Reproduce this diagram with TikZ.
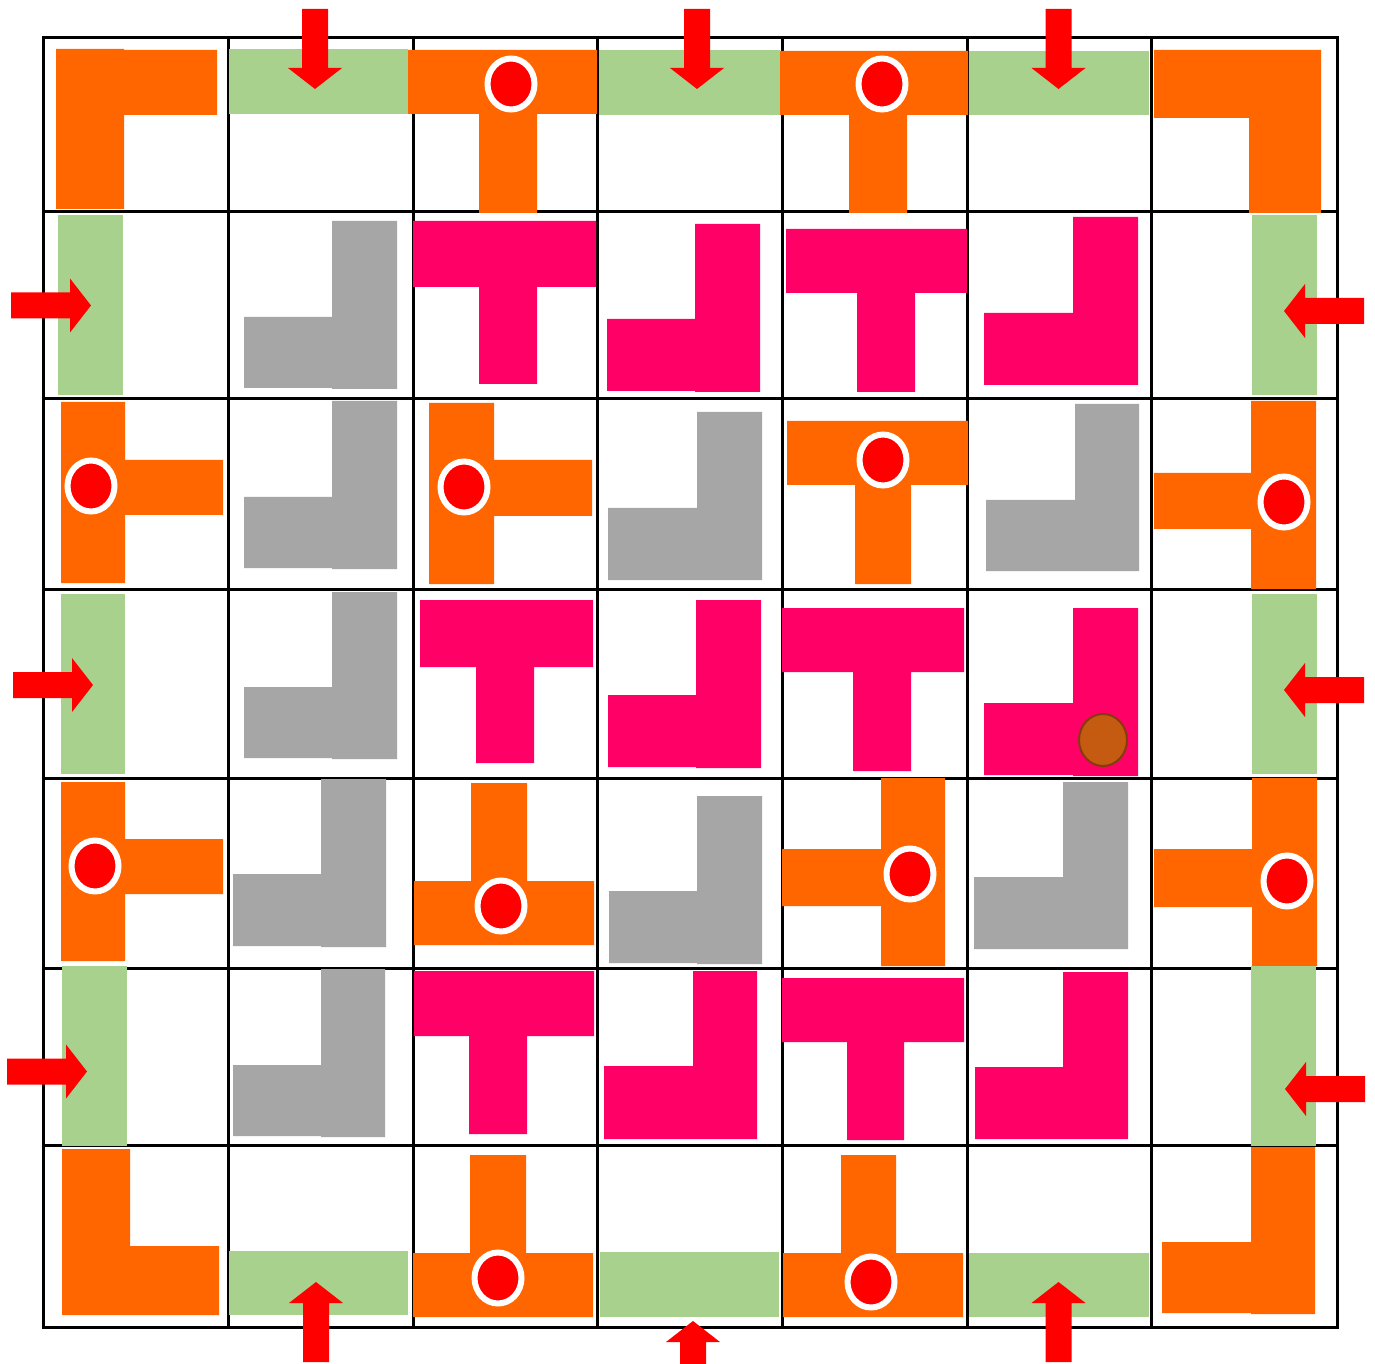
\documentclass[tikz,border=0pt]{standalone}
\usepackage{tikz}
\usetikzlibrary{shapes.geometric}
\usepackage{xcolor}
\definecolor{pieceorange}{RGB}{255,102,0}
\definecolor{piecegreen}{RGB}{169,209,142}
\definecolor{piecepink}{RGB}{255,0,102}
\definecolor{piecegray}{RGB}{166,166,166}
\definecolor{pinred}{RGB}{255,0,0}
\definecolor{stonebrown}{RGB}{197,90,17}
\definecolor{stoneedge}{RGB}{132,60,12}

% block arrows: first argument is the centre line, second the tip
\newcommand{\arrowdown}[2]{\fill[arrowred] (#1,#2) -- ++(27,-21) -- ++(-14,0) -- ++(0,-59) -- ++(-26,0) -- ++(0,59) -- ++(-14,0) -- cycle;}
\newcommand{\arrowup}[2]{\fill[arrowred] (#1,#2) -- ++(27,21) -- ++(-14,0) -- ++(0,59) -- ++(-26,0) -- ++(0,-59) -- ++(-14,0) -- cycle;}
\newcommand{\arrowright}[2]{\fill[arrowred] (#1,#2) -- ++(-21,-27) -- ++(0,14) -- ++(-59,0) -- ++(0,26) -- ++(59,0) -- ++(0,14) -- cycle;}
\newcommand{\arrowleft}[2]{\fill[arrowred] (#1,#2) -- ++(21,-27) -- ++(0,14) -- ++(59,0) -- ++(0,26) -- ++(-59,0) -- ++(0,14) -- cycle;}

\tikzset{
    grid line/.style={line width=0.06cm},
    orangepiece/.style={fill=pieceorange},
    greenpiece/.style={fill=piecegreen},
    pinkpiece/.style={fill=piecepink},
    graypiece/.style={fill=piecegray},
    arrowred/.style={fill=pinred},
    pin/.style={ellipse, fill=pinred, draw=white, line width=0.12cm, minimum width=0.94cm, minimum height=1.02cm, inner sep=0pt},
    stone/.style={ellipse, fill=stonebrown, draw=stoneedge, line width=0.04cm, minimum width=0.96cm, minimum height=1.04cm, inner sep=0pt}
}

\begin{document}
\begin{tikzpicture}[x=0.02cm, y=-0.02cm]
    \clip (0,0) rectangle (1375,1364);
    \fill[white] (0,0) rectangle (1375,1364);

    % board
    \foreach \gx in {228,413,597,782,967,1151}
        \draw[grid line] (\gx,38) -- (\gx,1327);
    \foreach \gy in {212,399,589,778,968,1145}
        \draw[grid line] (43,\gy) -- (1337,\gy);
    \draw[grid line] (43,38) rectangle (1337,1327);

    % fixed orange pieces
    \fill[orangepiece] (56,49) rectangle (124,209) (124,50) rectangle (217,115);
    \fill[orangepiece] (408,50) rectangle (597,114) (479,114) rectangle (537,213);
    \fill[orangepiece] (779,51) rectangle (968,115) (849,115) rectangle (907,213);
    \fill[orangepiece] (1154,50) rectangle (1321,118) (1249,118) rectangle (1321,213);
    \fill[orangepiece] (61,402) rectangle (125,583) (125,460) rectangle (223,515);
    \fill[orangepiece] (429,403) rectangle (494,584) (494,460) rectangle (592,516);
    \fill[orangepiece] (787,421) rectangle (968,485) (855,485) rectangle (911,584);
    \fill[orangepiece] (1251,401) rectangle (1316,589) (1154,473) rectangle (1251,529);
    \fill[orangepiece] (61,782) rectangle (125,961) (125,839) rectangle (223,894);
    \fill[orangepiece] (471,783) rectangle (527,881) (414,881) rectangle (594,945);
    \fill[orangepiece] (881,778) rectangle (945,966) (782,849) rectangle (881,906);
    \fill[orangepiece] (1252,778) rectangle (1317,966) (1154,849) rectangle (1252,907);
    \fill[orangepiece] (62,1149) rectangle (130,1246) (62,1246) rectangle (219,1315);
    \fill[orangepiece] (470,1155) rectangle (526,1253) (413,1253) rectangle (593,1317);
    \fill[orangepiece] (841,1155) rectangle (896,1253) (783,1253) rectangle (963,1317);
    \fill[orangepiece] (1251,1147) rectangle (1315,1314) (1162,1242) rectangle (1251,1313);

    % sliding bars on the rim
    \fill[greenpiece] (229,49) rectangle (408,114);
    \fill[greenpiece] (599,50) rectangle (780,115);
    \fill[greenpiece] (969,51) rectangle (1149,115);
    \fill[greenpiece] (58,215) rectangle (123,395);
    \fill[greenpiece] (1252,215) rectangle (1317,395);
    \fill[greenpiece] (61,594) rectangle (125,774);
    \fill[greenpiece] (1252,594) rectangle (1317,774);
    \fill[greenpiece] (62,966) rectangle (127,1146);
    \fill[greenpiece] (1251,966) rectangle (1316,1146);
    \fill[greenpiece] (229,1251) rectangle (408,1315);
    \fill[greenpiece] (600,1252) rectangle (779,1317);
    \fill[greenpiece] (969,1253) rectangle (1149,1317);

    % gray corners
    \fill[graypiece] (332,221) rectangle (397,389) (244,317) rectangle (332,388);
    \fill[graypiece] (332,401) rectangle (397,569) (244,497) rectangle (332,568);
    \fill[graypiece] (697,412) rectangle (762,580) (608,508) rectangle (697,580);
    \fill[graypiece] (1075,404) rectangle (1139,571) (986,500) rectangle (1075,571);
    \fill[graypiece] (332,592) rectangle (397,759) (244,687) rectangle (332,758);
    \fill[graypiece] (321,779) rectangle (386,947) (233,874) rectangle (321,946);
    \fill[graypiece] (697,796) rectangle (762,964) (609,891) rectangle (697,963);
    \fill[graypiece] (1063,782) rectangle (1128,949) (974,877) rectangle (1063,949);
    \fill[graypiece] (321,969) rectangle (385,1137) (233,1065) rectangle (321,1136);

    % pink pieces
    \fill[pinkpiece] (413,221) rectangle (596,287) (479,287) rectangle (537,384);
    \fill[pinkpiece] (695,224) rectangle (760,392) (607,319) rectangle (695,391);
    \fill[pinkpiece] (786,229) rectangle (967,293) (857,293) rectangle (915,392);
    \fill[pinkpiece] (1073,217) rectangle (1138,385) (984,313) rectangle (1073,385);
    \fill[pinkpiece] (420,600) rectangle (593,667) (476,667) rectangle (534,763);
    \fill[pinkpiece] (696,600) rectangle (761,768) (608,695) rectangle (696,767);
    \fill[pinkpiece] (782,608) rectangle (964,672) (853,672) rectangle (911,771);
    \fill[pinkpiece] (1073,608) rectangle (1138,776) (984,703) rectangle (1073,775);
    \fill[pinkpiece] (414,971) rectangle (594,1036) (469,1036) rectangle (527,1134);
    \fill[pinkpiece] (693,971) rectangle (757,1139) (604,1066) rectangle (693,1139);
    \fill[pinkpiece] (782,978) rectangle (964,1042) (847,1042) rectangle (904,1140);
    \fill[pinkpiece] (1063,972) rectangle (1128,1139) (975,1067) rectangle (1063,1139);

    % treasures and player
    \node[pin] (pin02) at (511,84) {};
    \node[pin] (pin04) at (882,84) {};
    \node[pin] (pin20) at (91,486) {};
    \node[pin] (pin22) at (464,487) {};
    \node[pin] (pin24) at (883,460) {};
    \node[pin] (pin26) at (1284,502) {};
    \node[pin] (pin40) at (95,866) {};
    \node[pin] (pin42) at (501,906) {};
    \node[pin] (pin44) at (910,874) {};
    \node[pin] (pin46) at (1287,881) {};
    \node[pin] (pin62) at (498,1278) {};
    \node[pin] (pin64) at (871,1282) {};
    \node[stone] (player) at (1103,740) {};

    % insert points
    \arrowdown{315}{89}
    \arrowdown{697}{89}
    \arrowdown{1058.5}{89}
    \arrowright{91}{305.5}
    \arrowright{93}{685}
    \arrowright{87}{1071.5}
    \arrowleft{1284}{311}
    \arrowleft{1284}{690}
    \arrowleft{1285}{1089}
    \arrowup{316}{1282}
    \arrowup{693}{1321}
    \arrowup{1058.5}{1282}
\end{tikzpicture}
\end{document}
